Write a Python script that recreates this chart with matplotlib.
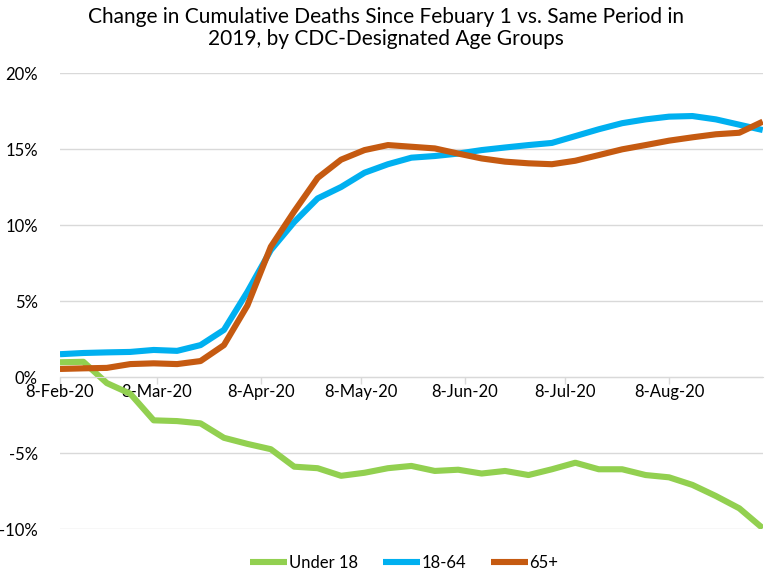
import numpy as np
import pandas as pd
import matplotlib
matplotlib.use("Agg")
from matplotlib import pyplot as plt
import matplotlib.dates as mdates
from matplotlib.ticker import FuncFormatter

plt.rcParams['font.family'] = ['Lato', 'DejaVu Sans']

# weekly points from 8-Feb-20
dates = pd.date_range("2020-02-08", periods=31, freq="7D")

under_18 = [0.97, 1.0, -0.4, -1.1, -2.85, -2.9, -3.05, -4.0, -4.4, -4.75,
            -5.9, -6.0, -6.5, -6.3, -6.0, -5.85, -6.18, -6.1, -6.35, -6.18,
            -6.45, -6.07, -5.64, -6.07, -6.07, -6.45, -6.6, -7.1, -7.83, -8.64,
            -9.95]
age_18_64 = [1.5, 1.58, 1.62, 1.65, 1.78, 1.72, 2.1, 3.1, 5.6, 8.35,
             10.2, 11.75, 12.5, 13.44, 14.0, 14.43, 14.54, 14.7, 14.93, 15.1,
             15.26, 15.4, 15.85, 16.3, 16.7, 16.95, 17.13, 17.17, 16.95, 16.6,
             16.25]
age_65_plus = [0.53, 0.57, 0.6, 0.85, 0.9, 0.85, 1.05, 2.1, 4.7, 8.57,
               10.9, 13.1, 14.3, 14.93, 15.26, 15.15, 15.04, 14.7, 14.38, 14.17,
               14.06, 14.0, 14.23, 14.6, 14.98, 15.26, 15.55, 15.77, 15.97, 16.07,
               16.8]

tick_dates = pd.to_datetime(["2020-02-08", "2020-03-08", "2020-04-08", "2020-05-08",
                             "2020-06-08", "2020-07-08", "2020-08-08"])

fig = plt.figure(figsize=(7.72, 5.75), dpi=100)
ax = fig.add_axes([0.0777, 0.08, 0.9103, 0.793])

lw = 4.4
ax.plot(dates, under_18, color="#92D050", lw=lw, label="Under 18", solid_capstyle="butt")
ax.plot(dates, age_18_64, color="#00B0F0", lw=lw, label="18-64", solid_capstyle="butt")
ax.plot(dates, age_65_plus, color="#C55A11", lw=lw, label="65+", solid_capstyle="butt")

ax.set_xlim(dates[0], dates[-1])
ax.set_ylim(-10, 20)
ax.set_yticks([-10, -5, 0, 5, 10, 15, 20])
ax.yaxis.set_major_formatter(FuncFormatter(lambda v, p: "%d%%" % v))
ax.grid(axis="y", color="#d9d9d9", lw=1)
ax.set_axisbelow(True)

ax.set_xticks(tick_dates)
ax.xaxis.set_major_formatter(mdates.DateFormatter("%-d-%b-%y"))
ax.spines['bottom'].set_position(('data', 0))
ax.spines['bottom'].set_color("#d9d9d9")
for s in ['top', 'right', 'left']:
    ax.spines[s].set_visible(False)
ax.tick_params(axis='x', colors="#d9d9d9", length=5, width=1, labelcolor="black",
               labelsize=12, pad=0)
ax.tick_params(axis='y', length=0, labelsize=12, pad=16)

fig.suptitle("Change in Cumulative Deaths Since Febuary 1 vs. Same Period in\n2019, by CDC-Designated Age Groups",
             fontsize=15, y=0.988, x=0.5, linespacing=1.15)

ax.legend(loc="lower center", bbox_to_anchor=(0.49, -0.125), ncol=3, frameon=False,
          fontsize=12, handlelength=2.2, handletextpad=0.1, columnspacing=1.5)

fig.savefig("out.png", dpi=100)
